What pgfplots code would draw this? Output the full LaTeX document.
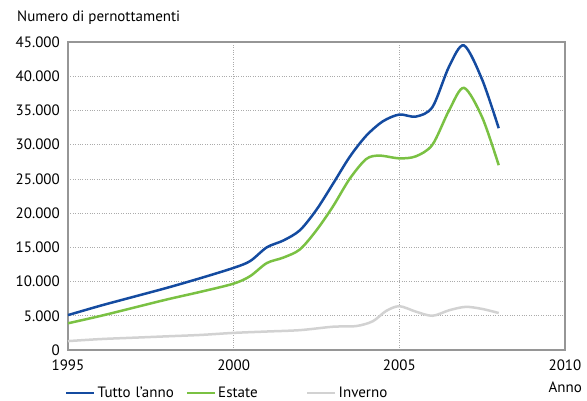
\documentclass[border=0pt]{standalone}
\usepackage{fontspec}
\setmainfont{PT Sans}
\usepackage{pgfplots}
\pgfplotsset{compat=1.18}
\definecolor{cblue}{RGB}{20,75,160}
\definecolor{cgreen}{RGB}{122,193,67}
\definecolor{cgray}{RGB}{210,210,210}
\definecolor{cframe}{RGB}{150,150,150}
\begin{document}
\fontsize{15}{18}\selectfont
\begin{tikzpicture}[x=1pt,y=1pt]
\useasboundingbox (-68,-51) rectangle (519,350);
\begin{axis}[
  at={(0,0)}, anchor=south west,
  width=497pt, height=308pt, scale only axis,
  xmin=1995, xmax=2010, ymin=0, ymax=45000,
  xtick={1995,2000,2005,2010},
  xticklabels={1995,2000,2005,2010},
  ytick={0,5000,...,45000},
  scaled y ticks=false,
  /pgf/number format/.cd, 1000 sep={.}, assume math mode=true, /pgfplots/.cd,
  grid=major,
  major grid style={dotted, cframe!80, line width=0.6pt},
  axis line style={cframe, line width=2.5pt},
  tick style={draw=none},
  tick label style={font=\fontsize{15}{18}\selectfont},
  yticklabel style={xshift=-3pt},
  xticklabel style={yshift=-5pt},
  legend columns=3,
  legend style={at={(-0.012,-0.14)}, anchor=west, draw=none, fill=none,
    font=\fontsize{15}{18}\selectfont,
    nodes={text width=80pt, align=left},
    /tikz/every even column/.append style={column sep=6pt}},
  legend image code/.code={\draw[#1, line width=2.5pt] (0pt,0pt) -- (28pt,0pt);},
]
\addplot[cblue, line width=2.5pt, smooth, tension=0.5] coordinates {
(1995,5100) (1996,6500) (1997,7800) (1998,9100) (1999,10500) (2000,12000)
(2000.5,13000) (2001,15000) (2001.5,16000) (2002,17500) (2002.5,20500) (2003,24300) (2003.5,28200)
(2004,31300) (2004.5,33400) (2005,34400) (2005.5,34100) (2006,35500) (2006.5,41400)
(2006.95,44500) (2007.5,39500) (2008,32400)};
\addlegendentry{Tutto l’anno}
\addplot[cgreen, line width=2.5pt, smooth, tension=0.5] coordinates {
(1995,3900) (1996,5000) (1997,6200) (1998,7400) (1999,8500) (2000,9700)
(2000.5,10800) (2001,12700) (2001.5,13500) (2002,14700) (2002.5,17500) (2003,21000) (2003.5,25000)
(2004,27900) (2004.4,28400) (2005,28000) (2005.5,28300) (2006,30000) (2006.5,35000)
(2006.95,38300) (2007.5,34000) (2008,27000)};
\addlegendentry{Estate}
\addplot[cgray, line width=2.5pt, smooth, tension=0.5] coordinates {
(1995,1300) (1996,1600) (1997,1800) (1998,2000) (1999,2200) (2000,2500)
(2001,2700) (2002,2900) (2003,3400) (2003.7,3500) (2004.2,4200) (2004.6,5700) (2005,6400)
(2005.5,5600) (2006,5000) (2006.5,5800) (2007,6300) (2007.5,6000) (2008,5400)};
\addlegendentry{Inverno}
\end{axis}
\node[anchor=base west, font=\fontsize{15}{18}\selectfont] at (-56,328) {Numero di pernottamenti};
\node[anchor=base east, font=\fontsize{15}{18}\selectfont] at (519,-43) {Anno};
\end{tikzpicture}
\end{document}
